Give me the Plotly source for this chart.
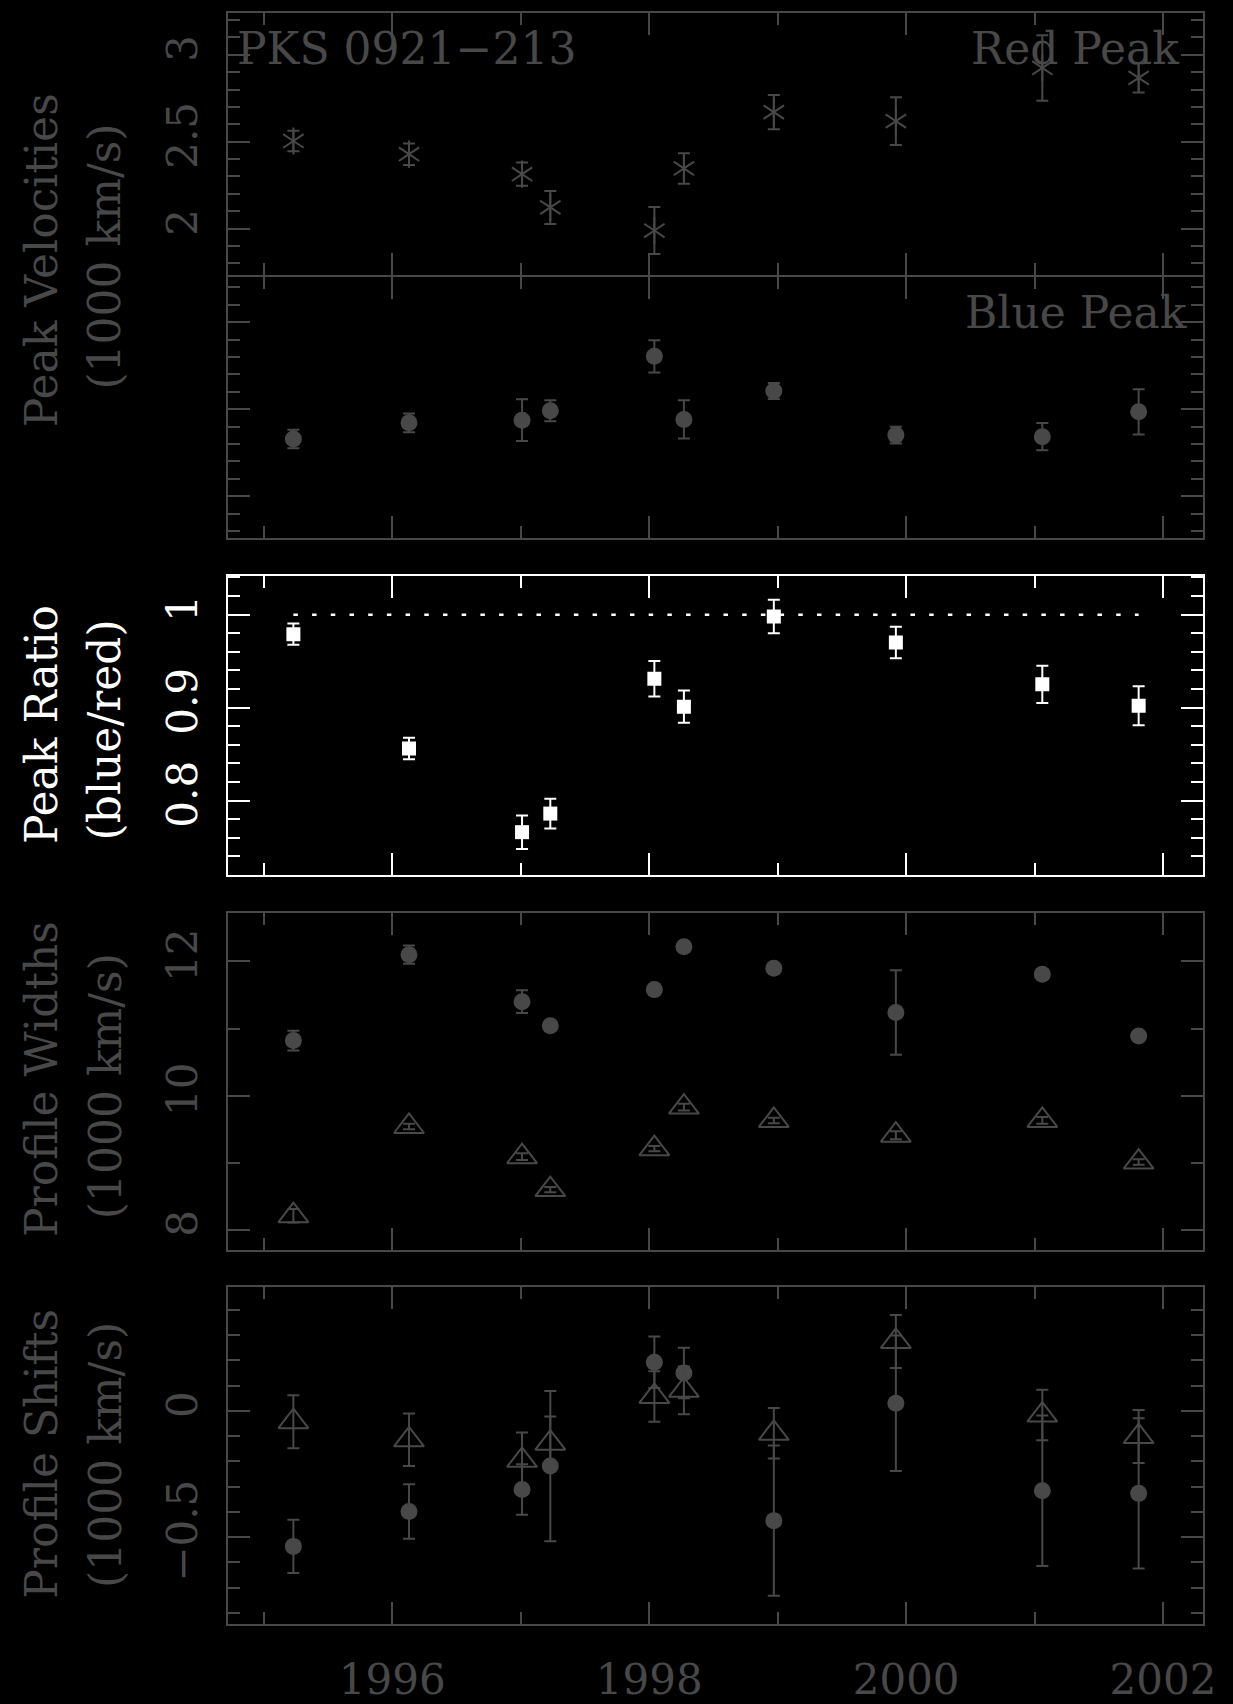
import plotly.graph_objects as go

# ---- observations (decimal year) ----
epochs = [1995.23, 1996.13, 1997.01, 1997.23, 1998.04, 1998.27, 1998.97, 1999.92, 2001.06, 2001.81]

# peak velocities (1000 km/s)
red_peak = [2.504, 2.428, 2.313, 2.122, 1.989, 2.346, 2.670, 2.618, 2.924, 2.867]
red_peak_err = [0.059, 0.062, 0.067, 0.095, 0.135, 0.088, 0.099, 0.137, 0.188, 0.084]
blue_peak = [2.329, 2.422, 2.437, 2.491, 2.804, 2.441, 2.605, 2.351, 2.342, 2.485]
blue_peak_err = [0.053, 0.054, 0.120, 0.060, 0.093, 0.110, 0.046, 0.048, 0.078, 0.130]

# peak ratio (blue/red)
peak_ratio = [0.979, 0.856, 0.766, 0.786, 0.931, 0.901, 0.998, 0.970, 0.925, 0.902]
peak_ratio_err = [0.0115, 0.0115, 0.018, 0.016, 0.019, 0.0174, 0.018, 0.017, 0.020, 0.021]
ratio_reference = 1.0

# profile widths (1000 km/s)
width_circ = [10.82, 12.10, 11.40, 11.04, 11.58, 12.22, 11.90, 11.24, 11.81, 10.89]
width_circ_err = [0.148, 0.136, 0.17, 0.05, 0.05, 0.05, 0.05, 0.63, 0.05, 0.05]
width_tri = [8.21, 9.54, 9.09, 8.60, 9.21, 9.83, 9.63, 9.41, 9.63, 9.01]
width_tri_err = [0.10, 0.04, 0.05, 0.04, 0.04, 0.05, 0.04, 0.06, 0.05, 0.04]

# profile shifts (1000 km/s)
shift_circ = [-0.537, -0.399, -0.312, -0.219, 0.192, 0.150, -0.435, 0.030, -0.317, -0.327]
shift_circ_err = [0.105, 0.108, 0.100, 0.298, 0.102, 0.100, 0.298, 0.268, 0.298, 0.298]
shift_tri = [-0.043, -0.115, -0.196, -0.128, 0.057, 0.081, -0.089, 0.275, -0.017, -0.102]
shift_tri_err = [0.105, 0.104, 0.110, 0.105, 0.100, 0.095, 0.100, 0.105, 0.100, 0.105]

x_ticks = [1996, 1998, 2000, 2002]

# ---- styling ----
W, H = 1233, 1704
GRAY = "#484848"
WHITE = "#ffffff"
FONT = "DejaVu Serif"
FS = 42


def fx(px):
    return px / W


def fy(py):
    return 1 - py / H


X_LEFT, X_RIGHT = 230.3, 1215.7
X_RANGE = [1994.72, 2002.31]

# the two velocity panels touch: their frame lines are drawn half outside each
# plot area, so the shared edge is split by one line width to make them coincide
panels = [
    dict(top=13.3, bottom=277.3, yrange=[1.734, 3.239], dtick=0.5, minor=0.1, color=GRAY, labels=True),
    dict(top=279.3, bottom=542.7, yrange=[1.760, 3.261], dtick=0.5, minor=0.1, color=GRAY, labels=False),
    dict(top=580.7, bottom=882.7, yrange=[0.720, 1.042], dtick=0.1, minor=0.02, color=WHITE, labels=True),
    dict(top=920.7, bottom=1260.7, yrange=[7.705, 12.728], dtick=2, minor=1, color=GRAY, labels=True),
    dict(top=1298.3, bottom=1638.3, yrange=[-0.844, 0.491], dtick=0.5, minor=0.1, color=GRAY, labels=True),
]

fig = go.Figure()
layout = dict(
    width=W, height=H,
    margin=dict(l=0, r=0, t=0, b=0),
    paper_bgcolor="black", plot_bgcolor="black",
    showlegend=False,
    font=dict(family=FONT, size=FS, color=GRAY),
)

for i, p in enumerate(panels, start=1):
    sfx = "" if i == 1 else str(i)
    c = p["color"]
    layout["xaxis" + sfx] = dict(
        domain=[fx(X_LEFT), fx(X_RIGHT)], range=X_RANGE, anchor="y" + sfx,
        showline=True, mirror="allticks", linecolor=c, linewidth=2,
        ticks="inside", ticklen=22, tickwidth=2, tickcolor=c,
        tickmode="array", tickvals=x_ticks,
        minor=dict(ticks="inside", ticklen=12, tickwidth=2, tickcolor=c, dtick=1, tick0=1995),
        showgrid=False, zeroline=False,
        showticklabels=(i == 5), ticklabelstandoff=18,
        tickfont=dict(family=FONT, size=FS, color=c),
    )
    layout["yaxis" + sfx] = dict(
        domain=[fy(p["bottom"]), fy(p["top"])], range=p["yrange"], anchor="x" + sfx,
        showline=True, mirror="allticks", linecolor=c, linewidth=2,
        ticks="inside", ticklen=22, tickwidth=2, tickcolor=c,
        tick0=0, dtick=p["dtick"],
        minor=dict(ticks="inside", ticklen=12, tickwidth=2, tickcolor=c, dtick=p["minor"], tick0=0),
        showgrid=False, zeroline=False,
        showticklabels=p["labels"], tickangle=-90, ticklabelstandoff=12,
        tickfont=dict(family=FONT, size=FS, color=c),
    )

err_style = dict(type="data", thickness=2, width=6)


def ax(i):
    return ("x", "y") if i == 1 else ("x%d" % i, "y%d" % i)


# Red peak: six-armed asterisk built from two Y symbols
xa, ya = ax(1)
fig.add_trace(go.Scatter(
    x=epochs, y=red_peak, xaxis=xa, yaxis=ya, mode="markers",
    error_y=dict(array=red_peak_err, color=GRAY, **err_style),
    marker=dict(symbol="y-up-open", size=17, color=GRAY, line=dict(color=GRAY, width=2)),
))
fig.add_trace(go.Scatter(
    x=epochs, y=red_peak, xaxis=xa, yaxis=ya, mode="markers",
    marker=dict(symbol="y-down-open", size=17, color=GRAY, line=dict(color=GRAY, width=2)),
))

# Blue peak
xa, ya = ax(2)
fig.add_trace(go.Scatter(
    x=epochs, y=blue_peak, xaxis=xa, yaxis=ya, mode="markers",
    error_y=dict(array=blue_peak_err, color=GRAY, **err_style),
    marker=dict(symbol="circle", size=17, color=GRAY, line=dict(width=0)),
))

# Peak ratio with reference level
xa, ya = ax(3)
fig.add_trace(go.Scatter(
    x=[epochs[0], epochs[-1]], y=[ratio_reference, ratio_reference], xaxis=xa, yaxis=ya,
    mode="lines", line=dict(color=WHITE, width=2.5, dash="4.5px,14.2px"),
))
fig.add_trace(go.Scatter(
    x=epochs, y=peak_ratio, xaxis=xa, yaxis=ya, mode="markers",
    error_y=dict(array=peak_ratio_err, color=WHITE, **err_style),
    marker=dict(symbol="square", size=14, color=WHITE, line=dict(width=0)),
))

# Profile widths
xa, ya = ax(4)
fig.add_trace(go.Scatter(
    x=epochs, y=width_circ, xaxis=xa, yaxis=ya, mode="markers",
    error_y=dict(array=width_circ_err, color=GRAY, **err_style),
    marker=dict(symbol="circle", size=17, color=GRAY, line=dict(width=0)),
))
fig.add_trace(go.Scatter(
    x=epochs, y=width_tri, xaxis=xa, yaxis=ya, mode="markers",
    error_y=dict(array=width_tri_err, color=GRAY, **err_style),
    marker=dict(symbol="triangle-up-open", size=26, color=GRAY, line=dict(color=GRAY, width=2)),
))

# Profile shifts
xa, ya = ax(5)
fig.add_trace(go.Scatter(
    x=epochs, y=shift_circ, xaxis=xa, yaxis=ya, mode="markers",
    error_y=dict(array=shift_circ_err, color=GRAY, **err_style),
    marker=dict(symbol="circle", size=17, color=GRAY, line=dict(width=0)),
))
fig.add_trace(go.Scatter(
    x=epochs, y=shift_tri, xaxis=xa, yaxis=ya, mode="markers",
    error_y=dict(array=shift_tri_err, color=GRAY, **err_style),
    marker=dict(symbol="triangle-up-open", size=26, color=GRAY, line=dict(color=GRAY, width=2)),
))


def label(text, x, y, color=GRAY, size=FS, angle=0, xanchor="center"):
    return dict(text=text, x=fx(x), y=fy(y), xref="paper", yref="paper",
                showarrow=False, textangle=angle, xanchor=xanchor, yanchor="middle",
                font=dict(family=FONT, size=size, color=color))


TS = 44
annotations = [
    label("PKS 0921\u2212213", 237, 49, size=44, xanchor="left"),
    label("Red Peak", 1194, 49, size=44, xanchor="right"),
    label("Blue Peak", 1202, 315, size=44, xanchor="right"),
    # axis titles
    label("Peak Velocities", 42, 263, size=TS, angle=-90),
    label("(1000 km/s)", 106, 259, size=TS, angle=-90),
    label("Peak Ratio", 42, 731, color=WHITE, size=TS, angle=-90),
    label("(blue/red)", 106, 736, color=WHITE, size=TS, angle=-90),
    label("Profile Widths", 42, 1089, size=TS, angle=-90),
    label("(1000 km/s)", 106, 1096, size=TS, angle=-90),
    label("Profile Shifts", 42, 1467, size=TS, angle=-90),
    label("(1000 km/s)", 106, 1468, size=TS, angle=-90),
]
layout["annotations"] = annotations

fig.update_layout(**layout)
fig.write_html("out.html")
